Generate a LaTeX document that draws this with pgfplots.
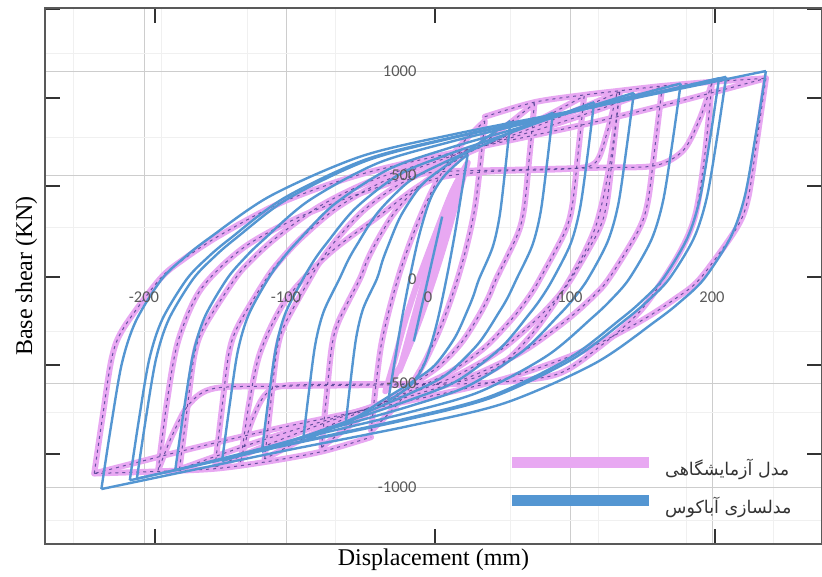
\documentclass[border=0pt]{standalone}
\usepackage{pgfplots}
\pgfplotsset{compat=1.18}
\usepackage{pgfplotstable}
\usepackage{fontspec}
\setmainfont{Liberation Serif}
\newfontfamily\tickfont{Carlito}
\newfontfamily\arabicfont[Script=Arabic]{DejaVu Sans}
\TeXXeTstate=1

\definecolor{pinkc}{RGB}{232,168,242}
\definecolor{bluec}{RGB}{84,150,210}
\definecolor{dashc}{RGB}{70,60,140}
\definecolor{gridc}{RGB}{205,205,205}
\definecolor{labelc}{RGB}{90,90,90}

\pgfplotsset{
  pinkline/.style={pinkc, line width=6pt, smooth, tension=0.5, unbounded coords=jump, forget plot, line join=round, line cap=round},
  dashline/.style={dashc, opacity=0.8, line width=1pt, dash pattern=on 3pt off 4pt, smooth, tension=0.5, unbounded coords=jump, forget plot},
  blueline/.style={bluec, line width=2.4pt, smooth, tension=0.5, unbounded coords=jump, forget plot, line join=round},
  frame/.style={at={(0pt,0pt)}, anchor=south west, scale only axis,
    width=777pt, height=536pt,
    xmin=-269.7, xmax=277.5, ymin=-1274, ymax=1303},
}

% ---- numerical model (Abaqus), one table per cycle: unloading, jump, reloading
\pgfplotstableread{
x y
10 300
4 120
-2 -60
-10 -300
nan nan
-10 -300
-4 -120
2 60
10 300
}\bla
\pgfplotstableread{
x y
28 600
24 430
19 220
13 0
6 -220
-2 -400
-12 -510
-28 -585
nan nan
-28 -585
-24 -420
-19 -215
-13 0
-6 215
2 390
12 500
28 600
}\blb
\pgfplotstableread{
x y
58 760
54.5 532
50.5 304
45.5 152
36 0
32.2 -77
28.5 -140
19.1 -280
5.0 -413
-10.1 -490
-29.8 -574
-43.9 -637
-58 -700
nan nan
-58 -700
-54.5 -490
-50.5 -280
-45.5 -140
-36 0
-32.2 84
-28.5 152
-19.1 304
-5.0 448
10.1 532
29.8 623
43.9 692
58 760
}\blc
\pgfplotstableread{
x y
88 800
83.9 560
79.3 320
73.4 160
62.4 0
56.4 -86
50.4 -156
35.3 -312
12.8 -460
-11.3 -546
-42.9 -640
-65.4 -710
-88 -780
nan nan
-88 -780
-83.9 -546
-79.3 -312
-73.4 -156
-62.4 0
-56.4 88
-50.4 160
-35.3 320
-12.8 472
11.3 560
42.9 656
65.4 728
88 800
}\bld
\pgfplotstableread{
x y
117 850
112.4 595
107.1 340
100.5 170
88 0
79.8 -91
71.6 -166
51.1 -332
20.4 -490
-12.5 -581
-55.5 -681
-86.3 -755
-117 -830
nan nan
-117 -830
-112.4 -581
-107.1 -332
-100.5 -166
-88 0
-79.8 94
-71.6 170
-51.1 340
-20.4 502
12.5 595
55.5 697
86.3 774
117 850
}\ble
\pgfplotstableread{
x y
145 895
139.8 627
134.0 358
126.5 179
112.6 0
102.3 -96
92.0 -175
66.2 -350
27.6 -516
-13.6 -613
-67.7 -718
-106.4 -796
-145 -875
nan nan
-145 -875
-139.8 -613
-134.0 -350
-126.5 -175
-112.6 0
-102.3 98
-92.0 179
-66.2 358
-27.6 528
13.6 627
67.7 734
106.4 814
145 895
}\blf
\pgfplotstableread{
x y
178 940
172.2 658
165.6 376
157.3 188
141.6 0
128.8 -101
116.0 -184
84.1 -368
36.1 -543
-15.0 -644
-82.1 -754
-130.1 -837
-178 -920
nan nan
-178 -920
-172.2 -644
-165.6 -368
-157.3 -184
-141.6 0
-128.8 103
-116.0 188
-84.1 376
-36.1 555
15.0 658
82.1 771
130.1 855
178 940
}\blg
\pgfplotstableread{
x y
205 965
198.7 676
191.5 386
182.4 193
165.4 0
150.6 -106
135.8 -192
98.7 -384
43.2 -566
-16.1 -672
-93.9 -787
-149.4 -874
-205 -960
nan nan
-205 -960
-198.7 -672
-191.5 -384
-182.4 -192
-165.4 0
-150.6 106
-135.8 193
-98.7 386
-43.2 569
16.1 676
93.9 791
149.4 878
205 965
}\blh
\pgfplotstableread{
x y
210 972
203.6 680
196.3 389
187.1 194
169.8 0
154.6 -106
139.4 -194
101.4 -387
44.5 -571
-16.3 -678
-96.1 -794
-153.0 -881
-210 -968
nan nan
-210 -968
-203.6 -678
-196.3 -387
-187.1 -194
-169.8 0
-154.6 107
-139.4 194
-101.4 389
-44.5 573
16.3 680
96.1 797
153.0 885
210 972
}\bli
\pgfplotstableread{
x y
238 1000
231.0 700
223.2 400
213.1 200
194.4 0
177.4 -111
160.4 -202
118.0 -404
54.3 -596
-13.6 -707
-102.7 -828
-166.3 -919
-230 -1010
nan nan
-230 -1010
-223.2 -707
-215.5 -404
-205.7 -202
-187.4 0
-170.4 110
-153.4 200
-110.8 400
-47.0 590
21.0 700
110.4 820
174.2 910
238 1000
}\blj

% ---- test (experimental) cycles
\pgfplotstableread{
x y
20 460
14 300
6 100
-4 -150
-12 -300
-20 -440
nan nan
-20 -440
-14 -290
-6 -90
4 150
12 320
20 460
}\pka
\pgfplotstableread{
x y
28 560
22 420
14 220
5 20
-6 -200
-18 -400
-30 -540
nan nan
-30 -540
-24 -400
-16 -200
-6 10
6 230
17 420
28 560
}\pkb
\pgfplotstableread{
x y
40 760
37 560
33 340
27 150
19 -40
9 -230
-4 -420
-20 -590
-40 -730
nan nan
-40 -730
-37 -530
-33 -320
-27 -140
-19 50
-9 240
4 440
20 620
40 760
}\pkc
\pgfplotstableread{
x y
75 845
71.5 592
67.7 338
62.9 211
48 0
43.1 -81
35.7 -178
23.4 -308
7.4 -421
-13.5 -518
-38.1 -624
-56.6 -713
-75 -810
nan nan
-75 -810
-71.5 -567
-67.7 -324
-62.9 -203
-48 0
-43.1 85
-35.7 186
-23.4 321
-7.4 439
13.5 541
38.1 651
56.6 744
75 845
}\pkd
\pgfplotstableread{
x y
110 880
105.9 616
101.6 352
96.0 220
78.8 0
71.0 -87
59.4 -190
40.0 -329
14.8 -450
-18.1 -554
-56.9 -666
-85.9 -761
-115 -865
nan nan
-115 -865
-110.9 -606
-106.4 -346
-100.7 -216
-83.2 0
-75.5 88
-63.9 194
-44.6 334
-19.4 458
13.4 563
52.0 678
81.0 774
110 880
}\pke
\pgfplotstableread{
x y
135 900
130.6 630
125.8 360
119.6 225
100.8 0
90.8 -91
75.7 -199
50.6 -344
18.0 -471
-24.6 -579
-74.8 -697
-112.4 -796
-150 -905
nan nan
-150 -905
-145.3 -634
-140.3 -362
-133.8 -226
-114 0
-104.0 90
-89.1 198
-64.2 342
-31.8 468
10.5 576
60.3 693
97.7 792
135 900
}\pkf
\pgfplotstableread{
x y
165 925
160.1 648
154.8 370
148.0 231
127.2 0
115.1 -92
97.0 -201
66.8 -348
27.5 -476
-23.9 -586
-84.3 -705
-129.7 -805
-175 -915
nan nan
-175 -915
-169.9 -641
-164.5 -366
-157.5 -229
-136 0
-124.0 93
-105.9 204
-75.8 352
-36.7 481
14.5 592
74.7 712
119.9 814
165 925
}\pkg
\pgfplotstableread{
x y
238 965
231.9 676
225.4 386
217.0 241
191.4 0
174.3 -94
148.8 -206
106.1 -355
50.7 -486
-21.8 -598
-107.1 -720
-171.0 -823
-235 -935
nan nan
-235 -935
-229.0 -655
-222.5 -374
-214.2 -234
-188.8 0
-171.7 97
-146.1 212
-103.4 367
-48.0 502
24.6 618
110.0 743
174.0 849
238 965
}\pkh
\pgfplotstableread{
x y
-190 -920
-184 -600
-176 -300
-160 -50
-130 150
-90 300
-40 430
0 510
60 525
120 535
160 545
180 620
192 780
200 945
nan nan
200 945
195 600
188 300
175 100
150 -150
120 -330
90 -460
40 -500
-40 -510
-100 -515
-150 -525
-168 -600
-180 -750
-190 -920
}\pki
\pgfplotstableread{
x y
135 900
128 550
118 250
100 0
75 -250
50 -420
20 -495
-40 -505
-100 -512
-115 -560
-125 -700
-132 -880
nan nan
-132 -880
-126 -600
-118 -350
-100 -100
-70 120
-35 300
0 470
40 515
100 530
118 560
126 700
133 890
}\pkj
\pgfplotstableread{
x y
-235 -935
-190 -925
-150 -912
-115 -880
-75 -830
-40 -760
nan nan
40 780
75 850
110 885
135 905
165 928
200 948
238 965
}\pkk

\begin{document}
\begin{tikzpicture}
\path[use as bounding box] (-45pt,-33pt) rectangle (777pt,544pt);
% grid and curves
\begin{axis}[frame,
  axis lines=middle, axis line style={draw=none},
  xtick={-200,-100,0,100,200}, xticklabels={},
  ytick={-1000,-500,0,500,1000}, yticklabels={},
  minor xtick={-250,-188,-127,-65,58,120,182,243},
  minor ytick={-1160,-640,-250,250,683,1087},
  major tick length=0pt, minor tick length=0pt,
  grid=both, major grid style={gridc, line width=0.9pt},
  minor grid style={gray!12, line width=0.6pt},
  legend style={at={(axis description cs:0.601,0.1884)}, anchor=north west,
    draw=none, fill=none, inner sep=0pt, column sep=16pt, row sep=0pt,
    font=\arabicfont\fontsize{17.5}{20}\selectfont, text=black!80,
    nodes={inner sep=0pt}},
  legend cell align=left,
]
\addplot[pinkline] table {\pkk};
\addplot[pinkline] table {\pka};
\addplot[pinkline] table {\pkb};
\addplot[pinkline] table {\pkc};
\addplot[pinkline] table {\pkd};
\addplot[pinkline] table {\pke};
\addplot[pinkline] table {\pkf};
\addplot[pinkline] table {\pkg};
\addplot[pinkline] table {\pkh};
\addplot[pinkline] table {\pki};
\addplot[pinkline] table {\pkj};
\addplot[dashline] table {\pkk};
\addplot[dashline] table {\pkc};
\addplot[dashline] table {\pkd};
\addplot[dashline] table {\pke};
\addplot[dashline] table {\pkf};
\addplot[dashline] table {\pkg};
\addplot[dashline] table {\pkh};
\addplot[dashline] table {\pki};
\addplot[dashline] table {\pkj};
\addplot[blueline] table {\bla};
\addplot[blueline] table {\blb};
\addplot[blueline] table {\blc};
\addplot[blueline] table {\bld};
\addplot[blueline] table {\ble};
\addplot[blueline] table {\blf};
\addplot[blueline] table {\blg};
\addplot[blueline] table {\blh};
\addplot[blueline] table {\bli};
\addplot[blueline] table {\blj};
\addlegendimage{legend image code/.code={\fill[pinkc, draw=none] (0pt,0pt) rectangle (137pt,11pt); \path[draw=none, fill=none] (0pt,-13pt) rectangle (137pt,25pt);}}
\addlegendentry{\beginR مدل آزمایشگاهی\endR}
\addlegendimage{legend image code/.code={\fill[bluec, draw=none] (0pt,0pt) rectangle (137pt,11pt); \path[draw=none, fill=none] (0pt,-13pt) rectangle (137pt,25pt);}}
\addlegendentry{\beginR مدلسازی آباکوس\endR}
\end{axis}
% tick numbers on the zero lines, drawn over the curves
\begin{axis}[frame,
  axis lines=middle, axis line style={draw=none},
  xtick={-200,-100,0,100,200}, xticklabels={-200,-100,0,100,200},
  ytick={-1000,-500,0,500,1000}, yticklabels={-1000,-500,0,500,1000},
  hide obscured x ticks=false, hide obscured y ticks=false,
  major tick length=0pt,
  tick label style={font=\tickfont\fontsize{16.5}{19}\selectfont, text=labelc},
  xticklabel style={anchor=north, yshift=-9pt},
  yticklabel style={anchor=east, xshift=-8pt},
]
\addplot[draw=none, forget plot] coordinates {(0,0)};
\end{axis}
% outer frame with its ticks and the axis titles
\begin{axis}[frame,
  axis line style={draw=gray!70!black, line width=1.6pt},
  xtick={-192.3,4.9,202.1}, ytick={-841,-413,10,447,870,1298},
  xticklabels={}, yticklabels={},
  tick align=inside, tick pos=both, major tick length=15pt,
  tick style={draw=black!80, line width=2.2pt},
  xlabel={Displacement (mm)}, ylabel={Base shear (KN)},
  label style={font=\fontsize{24}{28}\selectfont},
  xlabel style={at={(axis description cs:0.5,-0.0392)}, anchor=base},
  ylabel style={at={(axis description cs:-0.0167,0.5)}, anchor=base},
]
\addplot[draw=none, forget plot] coordinates {(0,0)};
\end{axis}
\end{tikzpicture}
\end{document}
